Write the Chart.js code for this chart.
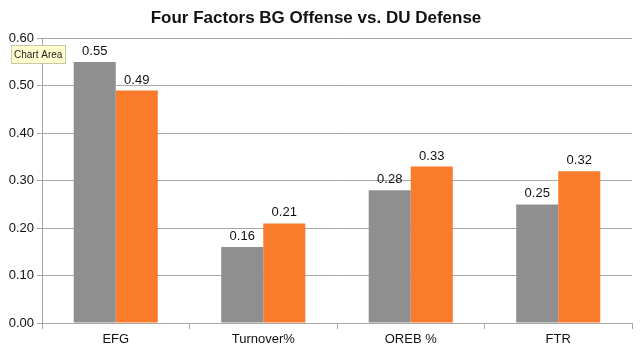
<!DOCTYPE html>
<html><head><meta charset="utf-8">
<script src="https://cdn.jsdelivr.net/npm/chart.js@4/dist/chart.umd.min.js"></script>
<style>html,body{margin:0;padding:0;background:#fff}#wrap{width:640px;height:356px}</style>
</head><body><div id="wrap"><canvas id="c"></canvas></div>
<script>
const categories = ["EFG", "Turnover%", "OREB %", "FTR"];
const bgOffense = [0.55, 0.16, 0.28, 0.25];
const duDefense = [0.49, 0.21, 0.33, 0.32];
const titleText = "Four Factors BG Offense vs. DU Defense";
const FONT = "'Liberation Sans', Arial, sans-serif";

const labelsPlugin = {
  id: 'vals',
  afterDatasetsDraw(chart) {
    const ctx = chart.ctx;
    ctx.save();
    ctx.font = "13px " + FONT;
    ctx.fillStyle = "#111";
    ctx.textAlign = "center";
    ctx.textBaseline = "bottom";
    chart.data.datasets.forEach((ds, i) => {
      chart.getDatasetMeta(i).data.forEach((bar, j) => {
        ctx.fillText(ds.data[j].toFixed(2), bar.x, bar.y - 4);
      });
    });
    // "Chart Area" hover tag seen in the reference
    ctx.fillStyle = "#ffffd0";
    ctx.strokeStyle = "#c8c8a8";
    ctx.fillRect(11.5, 45.5, 54, 18);
    ctx.strokeRect(11.5, 45.5, 54, 18);
    ctx.fillStyle = "#222";
    ctx.font = "10px " + FONT;
    ctx.textAlign = "left";
    ctx.textBaseline = "middle";
    ctx.fillText("Chart Area", 14, 55);
    ctx.restore();
  }
};

new Chart(document.getElementById('c'), {
  type: 'bar',
  data: {
    labels: categories,
    datasets: [
      {label: "BG Offense", data: bgOffense, backgroundColor: "#8f8f8f", categoryPercentage: 0.57, barPercentage: 1.0},
      {label: "DU Defense", data: duDefense, backgroundColor: "#fb7b2c", categoryPercentage: 0.57, barPercentage: 1.0}
    ]
  },
  options: {
    responsive: true, maintainAspectRatio: false, animation: false,
    layout: {padding: {left: 0, right: 8, top: 0, bottom: 0}},
    plugins: {
      legend: {display: false},
      tooltip: {enabled: false},
      title: {display: true, text: titleText, color: "#111",
        font: {family: FONT, size: 17, weight: 'bold'}, padding: {top: 8, bottom: 10}}
    },
    scales: {
      x: {
        grid: {display: true, drawOnChartArea: false, drawTicks: true, tickLength: 6, color: "#a8a8a8", offset: true},
        border: {display: true, color: "#a8a8a8"},
        ticks: {color: "#111", font: {family: FONT, size: 13}, padding: 3},
        afterFit(s) { s.height = 33; }
      },
      y: {
        min: 0, max: 0.6,
        ticks: {stepSize: 0.1, color: "#111", font: {family: FONT, size: 13}, padding: 3,
          callback: v => v.toFixed(2)},
        grid: {color: "#a8a8a8", tickLength: 5},
        border: {display: true, color: "#a8a8a8"},
        afterFit(s) { s.width = 42; }
      }
    }
  },
  plugins: [labelsPlugin]
});
</script></body></html>
